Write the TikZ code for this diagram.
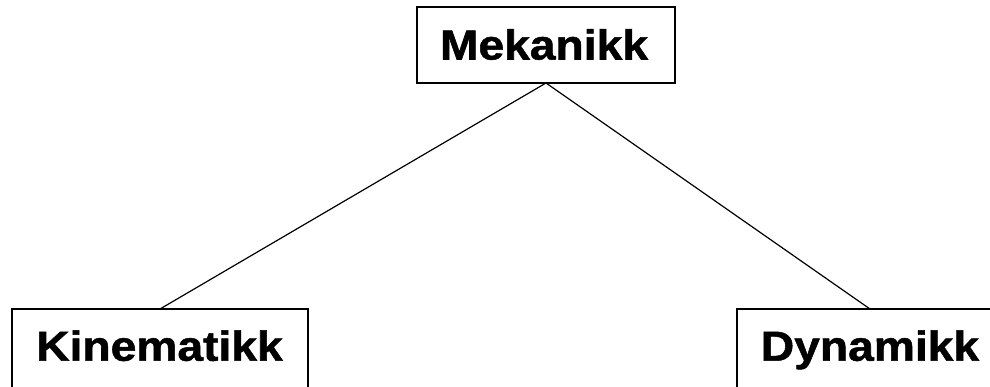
\documentclass[tikz,border=0pt]{standalone}
\usepackage{fontspec}
\setmainfont{Liberation Sans}[BoldFeatures={FakeBold=1.2}]
\usepackage{graphicx}
\begin{document}
\begin{tikzpicture}[x=1pt,y=-1pt,
  boxst/.style={draw=black,line width=1.5pt,fill=white,inner sep=0pt,outer sep=0pt},
  lbl/.style={anchor=base,inner sep=0pt,font=\fontsize{42}{50}\selectfont\bfseries},
  conn/.style={draw=black,line width=1.2pt}]
\useasboundingbox (0,0) rectangle (990,386);
\clip (0,0) rectangle (990,386);
\node[boxst,minimum width=258pt,minimum height=76pt] (mek) at (546,45) {};
\node[boxst,minimum width=296pt,minimum height=100pt] (kin) at (160,359) {};
\node[boxst,minimum width=266pt,minimum height=100pt] (dyn) at (870,359) {};
\draw[conn] (mek.south) -- (kin.north);
\draw[conn] (mek.south) -- (dyn.north);
\node[lbl] (mekt) at (544,59.5) {\scalebox{1.1}[1]{Mekanikk}};
\node[lbl] (kint) at (159.5,360.7) {\scalebox{1.1}[1]{Kinematikk}};
\node[lbl] (dynt) at (870,360.7) {\scalebox{1.1}[1]{Dynamikk}};
\end{tikzpicture}
\end{document}
